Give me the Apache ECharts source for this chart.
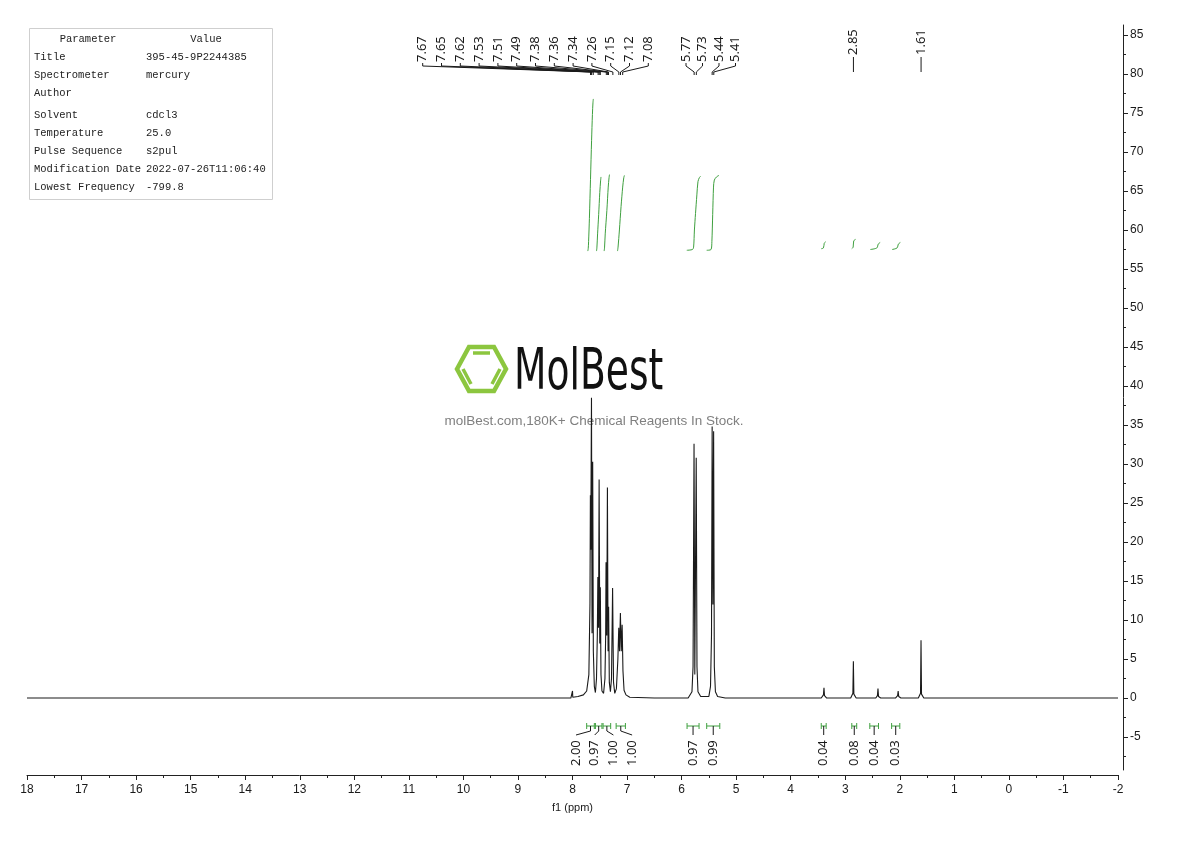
<!DOCTYPE html>
<html><head><meta charset="utf-8">
<script src="https://cdn.jsdelivr.net/npm/echarts@6/dist/echarts.min.js"></script>
<style>html,body{margin:0;padding:0;background:#fff}#c{width:1190px;height:841px}</style>
</head><body><div id="c"></div>
<script>
// ---------------- data ----------------
const traceShift = [18, 8.03, 8.005, 8.0, 7.995, 7.90, 7.80, 7.74, 7.70, 7.680, 7.672, 7.666, 7.652, 7.642, 7.630, 7.618, 7.600, 7.580, 7.560, 7.545, 7.535, 7.523, 7.512, 7.500, 7.490, 7.478, 7.460, 7.430, 7.405, 7.392, 7.385, 7.372, 7.360, 7.348, 7.338, 7.325, 7.305, 7.285, 7.265, 7.248, 7.225, 7.195, 7.168, 7.152, 7.138, 7.122, 7.106, 7.090, 7.075, 7.055, 7.02, 6.95, 6.5, 5.88, 5.81, 5.79, 5.772, 5.758, 5.748, 5.732, 5.718, 5.70, 5.65, 5.50, 5.47, 5.452, 5.440, 5.426, 5.413, 5.400, 5.38, 5.34, 5.2, 3.44, 3.40, 3.39, 3.38, 3.34, 2.90, 2.86, 2.851, 2.842, 2.80, 2.44, 2.41, 2.400, 2.39, 2.35, 2.08, 2.04, 2.03, 2.02, 1.98, 1.66, 1.62, 1.611, 1.602, 1.56, -2];
const traceIntensity = [0, 0, 0.1, 0.9, 0.1, 0.2, 0.4, 0.9, 3.0, 12, 26, 19, 38.5, 8.3, 30.3, 6, 1.5, 0.7, 2.5, 8, 15.5, 9, 28, 7, 14.2, 3, 0.9, 0.6, 2.5, 8, 17.4, 8, 27, 6, 11.7, 2, 0.8, 2.5, 14.1, 2, 0.6, 1.2, 5, 9.0, 6, 10.9, 6, 9.4, 3.5, 1, 0.4, 0.1, 0, 0, 0.8, 4, 32.6, 3, 3, 30.8, 4, 0.8, 0.2, 0.2, 1.5, 8, 34.8, 12, 34.2, 4, 0.8, 0.2, 0, 0, 0.4, 1.3, 0.3, 0, 0, 0.6, 4.7, 0.5, 0, 0, 0.3, 1.2, 0.2, 0, 0, 0.3, 0.9, 0.2, 0, 0, 0.6, 7.4, 0.5, 0, 0];

const peakLabels = [7.67, 7.65, 7.62, 7.53, 7.51, 7.49, 7.38, 7.36, 7.34, 7.26, 7.15, 7.12, 7.08, 5.77, 5.73, 5.44, 5.41, 2.85, 1.61];

const integralFrom = [7.74, 7.58, 7.44, 7.20, 5.90, 5.54, 3.44, 2.88, 2.55, 2.15];
const integralTo   = [7.60, 7.46, 7.30, 7.03, 5.68, 5.30, 3.35, 2.79, 2.39, 2.00];
const integralLabels = ['2.00', '0.97', '1.00', '1.00', '0.97', '0.99', '0.04', '0.08', '0.04', '0.03'];

const integralCurve1 = [[7.72,57.3],[7.712,57.6],[7.705,58.5],[7.69,61.5],[7.67,66.5],[7.65,71.5],[7.635,74.8],[7.625,76.3],[7.618,76.8]];
const integralCurve2 = [[7.56,57.3],[7.553,57.7],[7.54,59.5],[7.52,62],[7.50,64.8],[7.485,66.3],[7.478,66.8]];
const integralCurve3 = [[7.42,57.3],[7.413,57.7],[7.40,59.5],[7.37,62.5],[7.345,65.5],[7.33,66.7],[7.322,67.1]];
const integralCurve4 = [[7.175,57.3],[7.165,57.8],[7.14,60],[7.11,63],[7.08,65.5],[7.06,66.7],[7.048,67]];
const integralCurve5 = [[5.905,57.4],[5.80,57.5],[5.78,57.8],[5.765,60],[5.745,62.1],[5.72,64.5],[5.70,66.2],[5.675,66.7],[5.65,66.9]];
const integralCurve6 = [[5.54,57.4],[5.46,57.5],[5.445,58.5],[5.43,62],[5.415,65.5],[5.40,66.4],[5.36,66.8],[5.315,67.0]];
const integralCurve7 = [[3.44,57.6],[3.40,57.7],[3.385,58.3],[3.36,58.5]];
const integralCurve8 = [[2.88,57.6],[2.855,57.8],[2.845,58.6],[2.81,58.8]];
const integralCurve9 = [[2.54,57.5],[2.42,57.7],[2.395,58.2],[2.36,58.4]];
const integralCurve10 = [[2.14,57.5],[2.05,57.7],[2.025,58.2],[1.99,58.4]];

const yMajorTicks = [-5, 0, 5, 10, 15, 20, 25, 30, 35, 40, 45, 50, 55, 60, 65, 70, 75, 80, 85];
const yMinorTicks = [-7.5, -2.5, 2.5, 7.5, 12.5, 17.5, 22.5, 27.5, 32.5, 37.5, 42.5, 47.5, 52.5, 57.5, 62.5, 67.5, 72.5, 77.5, 82.5];

const paramNames = ['Title', 'Spectrometer', 'Author', 'Solvent', 'Temperature', 'Pulse Sequence', 'Modification Date', 'Lowest Frequency'];
const paramValues = ['395-45-9P2244385', 'mercury', '', 'cdcl3', '25.0', 's2pul', '2022-07-26T11:06:40', '-799.8'];

// ---------------- layout / style ----------------
const AXIS_FONT = '"Liberation Sans Narrow", "Liberation Sans", sans-serif';
const LABEL_FONT = '"Noto Sans", "Open Sans", sans-serif';
const MONO_FONT = '"Liberation Mono", "DejaVu Sans Mono", monospace';
const GREEN = '#3fa03f';
const INK = '#1a1a1a';

const peakGroups = [{from: 0, to: 12, x0: 422.7, step: 18.8}, {from: 13, to: 16, x0: 686, step: 16.5}];
function peakLabelX(i, px) {
  for (const g of peakGroups) if (i >= g.from && i <= g.to) return g.x0 + (i - g.from) * g.step;
  return px;
}
const integralGroups = [{from: 0, to: 3, x0: 576, step: 18.7}];
function integralLabelX(i, cx) {
  for (const g of integralGroups) if (i >= g.from && i <= g.to) return g.x0 + (i - g.from) * g.step;
  return cx;
}

const chart = echarts.init(document.getElementById('c'), null, {renderer: 'canvas'});

const spectrum = traceShift.map((x, i) => [x, traceIntensity[i]]);
const curves = [integralCurve1, integralCurve2, integralCurve3, integralCurve4, integralCurve5, integralCurve6, integralCurve7, integralCurve8, integralCurve9, integralCurve10];

const series = [{
  type: 'line', data: spectrum, showSymbol: false, symbol: 'none', z: 5,
  lineStyle: {color: INK, width: 1.1}, animation: false
}];
curves.forEach(c => series.push({
  type: 'line', data: c, showSymbol: false, symbol: 'none', smooth: 0.3, z: 4,
  lineStyle: {color: GREEN, width: 1}, animation: false
}));
series.push({
  type: 'custom', z: 6, animation: false,
  data: peakLabels.map((v, i) => [v, i]),
  encode: {x: 0, y: -1},
  renderItem: function (params, api) {
    const i = params.dataIndex;
    const px = api.coord([api.value(0), 0])[0];
    const lx = peakLabelX(i, px);
    const single = lx === px;
    const children = [{
      type: 'text', x: lx, y: single ? 55 : 62, rotation: Math.PI / 2,
      style: {text: peakLabels[i].toFixed(2), align: 'left', verticalAlign: 'middle', fontSize: 13, fontFamily: LABEL_FONT, fill: INK}
    }];
    const pts = single ? [[px, 57], [px, 72]] : [[lx, 63], [lx, 66], [px, 72], [px, 75]];
    children.push({type: 'polyline', shape: {points: pts}, style: {stroke: INK, lineWidth: 1, fill: null}});
    return {type: 'group', children};
  }
});
series.push({
  type: 'custom', z: 6, animation: false,
  data: integralFrom.map((v, i) => [v, integralTo[i], i]),
  encode: {x: [0, 1], y: -1},
  renderItem: function (params, api) {
    const i = params.dataIndex;
    const x1 = api.coord([api.value(0), 0])[0];
    const x2 = api.coord([api.value(1), 0])[0];
    const cx = (x1 + x2) / 2;
    const lx = integralLabelX(i, cx);
    const yb = 726;
    return {type: 'group', children: [
      {type: 'line', shape: {x1: x1, y1: yb, x2: x2, y2: yb}, style: {stroke: GREEN, lineWidth: 1}},
      {type: 'line', shape: {x1: x1, y1: yb - 3, x2: x1, y2: yb + 3}, style: {stroke: GREEN, lineWidth: 1}},
      {type: 'line', shape: {x1: x2, y1: yb - 3, x2: x2, y2: yb + 3}, style: {stroke: GREEN, lineWidth: 1}},
      {type: 'polyline', shape: {points: [[cx, yb], [cx, yb + 5], [lx, yb + 9]]}, style: {stroke: INK, lineWidth: 1, fill: null}},
      {type: 'text', x: lx, y: 766, rotation: Math.PI / 2,
        style: {text: integralLabels[i], align: 'left', verticalAlign: 'middle', fontSize: 13, fontFamily: LABEL_FONT, fill: INK}}
    ]};
  }
});

// graphic: parameter table + watermark
const graphics = [];
const TFONT = '10.5px ' + MONO_FONT;
graphics.push({type: 'rect', shape: {x: 29.5, y: 28.5, width: 243, height: 171}, style: {fill: '#fff', stroke: '#cfcfcf', lineWidth: 1}, z: 1});
graphics.push({type: 'text', x: 88, y: 39, style: {text: 'Parameter', align: 'center', verticalAlign: 'middle', font: TFONT, fill: '#222'}, z: 2});
graphics.push({type: 'text', x: 206, y: 39, style: {text: 'Value', align: 'center', verticalAlign: 'middle', font: TFONT, fill: '#222'}, z: 2});
const rowY = [57, 75, 93, 115, 133, 151, 169, 187];
paramNames.forEach((n, i) => {
  graphics.push({type: 'text', x: 34, y: rowY[i], style: {text: n, align: 'left', verticalAlign: 'middle', font: TFONT, fill: '#222'}, z: 2});
  graphics.push({type: 'text', x: 146, y: rowY[i], style: {text: paramValues[i], align: 'left', verticalAlign: 'middle', font: TFONT, fill: '#222'}, z: 2});
});
// watermark logo
const LG = '#8cc63f';
graphics.push({type: 'polygon', shape: {points: [[457, 369], [469, 347], [494, 347], [506, 369], [494, 391], [469, 391]]}, style: {fill: null, stroke: LG, lineWidth: 4.5}, z: 0, silent: true});
graphics.push({type: 'line', shape: {x1: 473, y1: 353, x2: 490, y2: 353}, style: {stroke: LG, lineWidth: 3.5}, z: 0, silent: true});
graphics.push({type: 'line', shape: {x1: 463, y1: 369, x2: 471, y2: 384}, style: {stroke: LG, lineWidth: 3.5}, z: 0, silent: true});
graphics.push({type: 'line', shape: {x1: 500, y1: 369, x2: 492, y2: 384}, style: {stroke: LG, lineWidth: 3.5}, z: 0, silent: true});
graphics.push({type: 'text', x: 514, y: 374, scaleX: 0.66, style: {text: 'MolBest', align: 'left', verticalAlign: 'middle', font: '57px "DejaVu Sans", sans-serif', fill: '#111'}, z: 0, silent: true});
graphics.push({type: 'text', x: 594, y: 421, style: {text: 'molBest.com,180K+ Chemical Reagents In Stock.', align: 'center', verticalAlign: 'middle', font: '13.5px "Liberation Sans", Arial, sans-serif', fill: '#808080'}, z: 0, silent: true});

chart.setOption({
  animation: false,
  backgroundColor: '#fff',
  grid: {left: 27, right: 72, top: 25, bottom: 71, containLabel: false},
  xAxis: {
    type: 'value', min: -2, max: 18, interval: 1, inverse: true, position: 'bottom', offset: 5,
    name: 'f1 (ppm)', nameLocation: 'middle', nameGap: 27,
    nameTextStyle: {fontFamily: AXIS_FONT, fontSize: 11, color: INK},
    axisLine: {show: true, onZero: false, lineStyle: {color: '#222', width: 1}},
    axisTick: {show: true, length: 5, lineStyle: {color: '#222'}},
    minorTick: {show: true, splitNumber: 2, length: 3, lineStyle: {color: '#222'}},
    axisLabel: {fontFamily: AXIS_FONT, fontSize: 12, color: INK, margin: 9},
    splitLine: {show: false}
  },
  yAxis: [{
    type: 'value', position: 'right', min: -9.23, max: 86.28, offset: 5,
    axisLine: {show: true, onZero: false, lineStyle: {color: '#222', width: 1}},
    axisTick: {show: true, length: 5, customValues: yMajorTicks, lineStyle: {color: '#222'}},
    axisLabel: {customValues: yMajorTicks, fontFamily: AXIS_FONT, fontSize: 12, color: INK, margin: 7},
    splitLine: {show: false}
  }, {
    type: 'value', position: 'right', min: -9.23, max: 86.28, offset: 5,
    axisLine: {show: false, onZero: false},
    axisTick: {show: true, length: 3, customValues: yMinorTicks, lineStyle: {color: '#222'}},
    axisLabel: {show: false},
    splitLine: {show: false}
  }],
  graphic: graphics,
  series: series
});
</script>
</body></html>
